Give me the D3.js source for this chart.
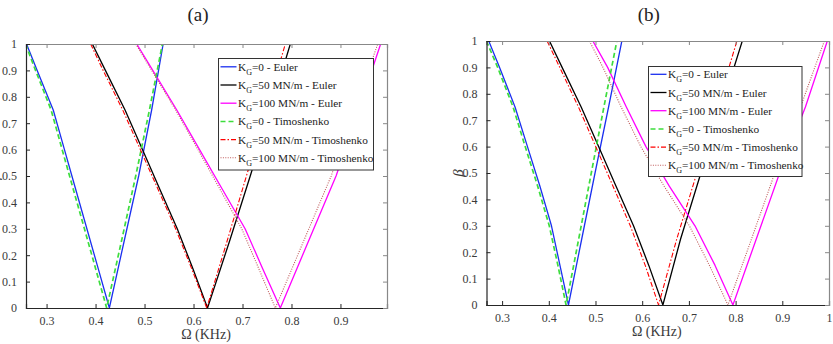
<!DOCTYPE html>
<html><head><meta charset="utf-8">
<script src="https://cdn.jsdelivr.net/npm/d3@7"></script>
<style>body{margin:0;background:#fff} svg{display:block}</style>
</head><body><svg id="c" width="833" height="344" font-family="Liberation Serif"></svg>
<script>
// beta levels at which omega values were read
const betaDown = [1, 0.9, 0.75, 0.6, 0.45, 0.3, 0.15, 0];
const betaUp = [0, 0.25, 0.5, 0.75, 1];
const yTicks = [0, 0.1, 0.2, 0.3, 0.4, 0.5, 0.6, 0.7, 0.8, 0.9, 1];
const xTicksA = [0.3, 0.4, 0.5, 0.6, 0.7, 0.8, 0.9];
const xTicksB = [0.3, 0.4, 0.5, 0.6, 0.7, 0.8, 0.9, 1];
const legendLabels = ["=0 - Euler", "=50 MN/m - Euler", "=100 MN/m - Euler",
  "=0 - Timoshenko", "=50 MN/m - Timoshenko", "=100 MN/m - Timoshenko"];
const titles = ["(a)", "(b)"];

// Panel (a): omega (KHz) on falling branch (betaDown) and rising branch (betaUp)
const aEuler0Down = [0.2591, 0.2808, 0.3136, 0.3365, 0.3594, 0.3823, 0.4053, 0.4282];
const aEuler0Up = [0.4282, 0.458, 0.488, 0.5145, 0.538];
const aEuler50Down = [0.3934, 0.4201, 0.4602, 0.4957, 0.5312, 0.5668, 0.5986, 0.6286];
const aEuler50Up = [0.6286, 0.673, 0.7158, 0.757, 0.7976];
const aEuler100Down = [0.484, 0.5168, 0.5658, 0.6123, 0.6588, 0.7053, 0.741, 0.7772];
const aEuler100Up = [0.7772, 0.834, 0.891, 0.937, 0.982];
const aTimo0Down = [0.257, 0.2775, 0.3093, 0.3318, 0.3545, 0.3773, 0.4, 0.4227];
const aTimo0Up = [0.4227, 0.4525, 0.482, 0.51, 0.5365];
const aTimo50Down = [0.39, 0.4155, 0.4555, 0.4915, 0.5275, 0.5635, 0.596, 0.627];
const aTimo50Up = [0.627, 0.668, 0.708, 0.748, 0.7874];
const aTimo100Down = [0.482, 0.5145, 0.5635, 0.609, 0.654, 0.6985, 0.733, 0.767];
const aTimo100Up = [0.767, 0.824, 0.881, 0.929, 0.976];

// Panel (b)
const bEuler0Down = [0.2714, 0.2946, 0.3277, 0.3543, 0.381, 0.4057, 0.4239, 0.4421];
const bEuler0Up = [0.4421, 0.4705, 0.499, 0.528, 0.5564];
const bEuler50Down = [0.4014, 0.4285, 0.4693, 0.5066, 0.544, 0.5814, 0.6141, 0.6443];
const bEuler50Up = [0.6443, 0.6822, 0.7257, 0.77, 0.8143];
const bEuler100Down = [0.4943, 0.526, 0.566, 0.608, 0.658, 0.713, 0.756, 0.7943];
const bEuler100Up = [0.7943, 0.8443, 0.8943, 0.9495, 0.9964];
const bTimo0Down = [0.2665, 0.2905, 0.3235, 0.3495, 0.3762, 0.401, 0.4195, 0.437];
const bTimo0Up = [0.437, 0.464, 0.491, 0.518, 0.5457];
const bTimo50Down = [0.3964, 0.4235, 0.4635, 0.5005, 0.5375, 0.5745, 0.6065, 0.635];
const bTimo50Up = [0.635, 0.674, 0.717, 0.76, 0.8029];
const bTimo100Down = [0.487, 0.516, 0.555, 0.597, 0.647, 0.701, 0.744, 0.7836];
const bTimo100Up = [0.7836, 0.834, 0.884, 0.939, 0.99];

const styles = [
  {color: "#1a2ff0", dash: null, width: 1.3},
  {color: "#000000", dash: null, width: 1.3},
  {color: "#ff00ff", dash: null, width: 1.3},
  {color: "#3ddd3d", dash: "5,3", width: 1.7},
  {color: "#ff0000", dash: "5,2,1.5,2", width: 1.1},
  {color: "#c05a5a", dash: "1,1.4", width: 1.1}
];
const SERIF = "Liberation Serif";

const svg = d3.select("#c");

function drawPanel(id, cfg, series, xTicks) {
  const x = d3.scaleLinear().domain(cfg.xdom).range([cfg.left, cfg.right]);
  const y = d3.scaleLinear().domain([0, 1]).range([cfg.bottom, cfg.top]);
  const g = svg.append("g");
  g.append("clipPath").attr("id", "clip" + id).append("rect")
    .attr("x", cfg.left).attr("y", cfg.top).attr("width", cfg.right - cfg.left).attr("height", cfg.bottom - cfg.top);
  const line = d3.line().x(d => x(d[0])).y(d => y(d[1]));
  const lg = g.append("g").attr("clip-path", `url(#clip${id})`);
  series.forEach((s, i) => {
    const pts = s[0].map((w, k) => [w, betaDown[k]]).concat(s[1].map((w, k) => [w, betaUp[k]]));
    const p = lg.append("path").datum(pts).attr("d", line).attr("fill", "none")
      .attr("stroke", styles[i].color).attr("stroke-width", styles[i].width)
      .attr("stroke-linejoin", "round");
    if (styles[i].dash) p.attr("stroke-dasharray", styles[i].dash);
  });
  // axes
  const fmt = d => String(+d.toFixed(1));
  const ax = g.append("g").attr("transform", `translate(0,${cfg.bottom})`)
    .call(d3.axisBottom(x).tickValues(xTicks).tickSize(-4).tickPadding(8).tickFormat(fmt));
  const axT = g.append("g").attr("transform", `translate(0,${cfg.top})`)
    .call(d3.axisTop(x).tickValues(xTicks).tickSize(-4).tickFormat(""));
  const ay = g.append("g").attr("transform", `translate(${cfg.left},0)`)
    .call(d3.axisLeft(y).tickValues(yTicks).tickSize(-4).tickPadding(9).tickFormat(fmt));
  const ayR = g.append("g").attr("transform", `translate(${cfg.right},0)`)
    .call(d3.axisRight(y).tickValues(yTicks).tickSize(-4).tickFormat(""));
  [ax, axT, ay, ayR].forEach(a => a.attr("font-family", SERIF).attr("font-size", 12));
  [ax, ay].forEach(a => {
    a.selectAll(".domain").attr("stroke", "#262626").attr("stroke-width", 1.2);
    a.selectAll(".tick line").attr("stroke", "#262626");
    a.selectAll("text").attr("fill", "#3a3a3a");
  });
  [axT, ayR].forEach(a => {
    a.selectAll(".domain").attr("stroke", "#888").attr("stroke-width", 1.2);
    a.selectAll(".tick line").attr("stroke", "#888");
  });
  // titles and labels
  g.append("text").attr("x", (cfg.left + cfg.right) / 2 + cfg.titleDx).attr("y", 21)
    .attr("text-anchor", "middle").attr("font-family", SERIF).attr("font-size", 19).attr("fill", "#222").text(titles[id]);
  g.append("text").attr("x", (cfg.left + cfg.right) / 2 + cfg.titleDx + 8).attr("y", cfg.xlabY)
    .attr("text-anchor", "middle").attr("font-family", SERIF).attr("font-size", 14).attr("fill", "#3a3a3a").text("Ω (KHz)");
  g.append("text").attr("transform", `translate(${cfg.betaX},${(cfg.top + cfg.bottom) / 2}) rotate(-90)`)
    .attr("text-anchor", "middle").attr("font-family", SERIF).attr("font-size", 15).attr("font-style", "italic").attr("fill", "#3a3a3a").text("β");
  // legend
  const L = cfg.legend;
  const leg = g.append("g");
  leg.append("rect").attr("x", L.x).attr("y", L.y).attr("width", L.w).attr("height", L.h)
    .attr("fill", "#fff").attr("stroke", "#333").attr("stroke-width", 1);
  legendLabels.forEach((lab, i) => {
    const yy = L.y + L.first + i * L.step;
    const ln = leg.append("line").attr("x1", L.x + 2).attr("x2", L.x + 18).attr("y1", yy).attr("y2", yy)
      .attr("stroke", styles[i].color).attr("stroke-width", Math.min(styles[i].width, 1.5));
    if (styles[i].dash) ln.attr("stroke-dasharray", styles[i].dash);
    const t = leg.append("text").attr("x", L.x + 19.5).attr("y", yy + 4)
      .attr("font-family", SERIF).attr("font-size", 11.3).attr("fill", "#222");
    t.append("tspan").text("K");
    t.append("tspan").attr("dy", 4).attr("font-size", 8).text("G");
    t.append("tspan").attr("dy", -4).text(lab);
  });
}

drawPanel(0, {left: 26, right: 387, top: 44, bottom: 308, xdom: [0.258, 0.995], titleDx: -8.5, betaX: -1.5, xlabY: 339,
  legend: {x: 218.5, y: 58.5, w: 155, h: 111.5, first: 8.3, step: 18.2}},
  [[aEuler0Down, aEuler0Up], [aEuler50Down, aEuler50Up], [aEuler100Down, aEuler100Up],
   [aTimo0Down, aTimo0Up], [aTimo50Down, aTimo50Up], [aTimo100Down, aTimo100Up]], xTicksA);

drawPanel(1, {left: 486.5, right: 829, top: 41, bottom: 305, xdom: [0.2666, 1.0], titleDx: -9, betaX: 463, xlabY: 336,
  legend: {x: 648.5, y: 66.5, w: 153.5, h: 110, first: 7.8, step: 18.2}},
  [[bEuler0Down, bEuler0Up], [bEuler50Down, bEuler50Up], [bEuler100Down, bEuler100Up],
   [bTimo0Down, bTimo0Up], [bTimo50Down, bTimo50Up], [bTimo100Down, bTimo100Up]], xTicksB);
</script></body></html>
